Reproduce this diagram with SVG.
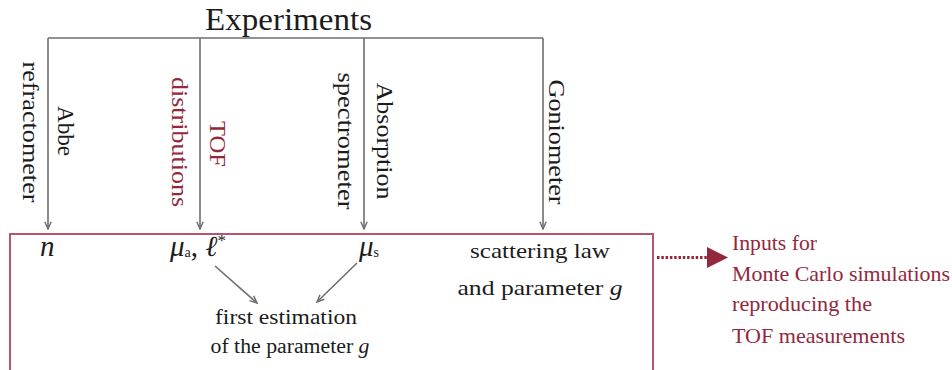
<svg xmlns="http://www.w3.org/2000/svg" width="952" height="370" viewBox="0 0 952 370">
<style>
text{font-family:"Liberation Serif","Times New Roman",serif;fill:#1c1c1c}
.t{font-size:23px}
.r{fill:#93283d}
.m{font-style:italic}
.c{stroke:#6e6e6e;stroke-width:1.6;fill:none}
.ah{stroke:#6e6e6e;stroke-width:1.6;fill:none}
</style>
<defs>
<marker id="arr" viewBox="0 0 10 10" refX="9" refY="5" markerWidth="9" markerHeight="9" markerUnits="userSpaceOnUse" orient="auto">
<path d="M1,1.5 L9,5 L1,8.5" class="ah"/>
</marker>
</defs>
<rect width="952" height="370" fill="#fff"/>
<g id="title"><text x="288.5" y="30" font-size="31" text-anchor="middle" textLength="167" lengthAdjust="spacingAndGlyphs">Experiments</text></g>
<g id="connectors">
<line class="c" x1="48" y1="38" x2="543" y2="38"/>
<line class="c" x1="48" y1="38" x2="48" y2="229" marker-end="url(#arr)"/>
<line class="c" x1="200" y1="38" x2="200" y2="229" marker-end="url(#arr)"/>
<line class="c" x1="364" y1="38" x2="364" y2="229" marker-end="url(#arr)"/>
<line class="c" x1="543" y1="38" x2="543" y2="229" marker-end="url(#arr)"/>
<line class="c" x1="215" y1="266" x2="257" y2="303" marker-end="url(#arr)"/>
<line class="c" x1="357" y1="263" x2="317" y2="302" marker-end="url(#arr)"/>
<line x1="657" y1="257.5" x2="708" y2="257.5" stroke="#93283d" stroke-width="3" stroke-dasharray="2.5 1.8"/>
<polygon points="707,247 728,257.5 707,268" fill="#93283d"/>
</g>
<g id="abbe">
<text class="t" transform="translate(58,131) rotate(90)" text-anchor="middle" textLength="50" lengthAdjust="spacingAndGlyphs">Abbe</text>
<text class="t" transform="translate(23,132) rotate(90)" text-anchor="middle" textLength="141" lengthAdjust="spacingAndGlyphs">refractometer</text>
</g>
<g id="tof">
<text class="t r" transform="translate(210,144) rotate(90)" text-anchor="middle" textLength="46" lengthAdjust="spacingAndGlyphs">TOF</text>
<text class="t r" transform="translate(172,142) rotate(90)" text-anchor="middle" textLength="130" lengthAdjust="spacingAndGlyphs">distributions</text>
</g>
<g id="absorption">
<text class="t" transform="translate(377,141) rotate(90)" text-anchor="middle" textLength="117" lengthAdjust="spacingAndGlyphs">Absorption</text>
<text class="t" transform="translate(338,141) rotate(90)" text-anchor="middle" textLength="137" lengthAdjust="spacingAndGlyphs">spectrometer</text>
</g>
<g id="goniometer">
<text class="t" transform="translate(549,142) rotate(90)" text-anchor="middle" textLength="125" lengthAdjust="spacingAndGlyphs">Goniometer</text>
</g>
<g id="results">
<rect x="10" y="234" width="643" height="150" fill="none" stroke="#b5566a" stroke-width="2"/>
<text class="m" x="40" y="256" font-size="29">n</text>
<text x="170" y="256" font-size="29"><tspan class="m">μ</tspan><tspan font-size="14" dy="1">a</tspan><tspan dy="-1">, </tspan><tspan class="m">ℓ</tspan><tspan font-size="17" dy="-10">*</tspan></text>
<text x="359" y="256" font-size="29"><tspan class="m">μ</tspan><tspan font-size="14" dy="1">s</tspan></text>
<text x="540" y="258" font-size="22" text-anchor="middle" textLength="140" lengthAdjust="spacingAndGlyphs">scattering law</text>
<text x="540" y="295" font-size="22" text-anchor="middle" textLength="165" lengthAdjust="spacingAndGlyphs">and parameter <tspan class="m">g</tspan></text>
<text x="286" y="324" font-size="20" text-anchor="middle" textLength="142" lengthAdjust="spacingAndGlyphs">first estimation</text>
<text x="290" y="353" font-size="20" text-anchor="middle" textLength="159" lengthAdjust="spacingAndGlyphs">of the parameter <tspan class="m">g</tspan></text>
</g>
<g id="mc">
<text class="r" x="732" y="250" font-size="21" textLength="85" lengthAdjust="spacingAndGlyphs">Inputs for</text>
<text class="r" x="732" y="281" font-size="21" textLength="218" lengthAdjust="spacingAndGlyphs">Monte Carlo simulations</text>
<text class="r" x="732" y="311" font-size="21" textLength="140" lengthAdjust="spacingAndGlyphs">reproducing the</text>
<text class="r" x="732" y="343" font-size="21" textLength="173" lengthAdjust="spacingAndGlyphs">TOF measurements</text>
</g>
</svg>
